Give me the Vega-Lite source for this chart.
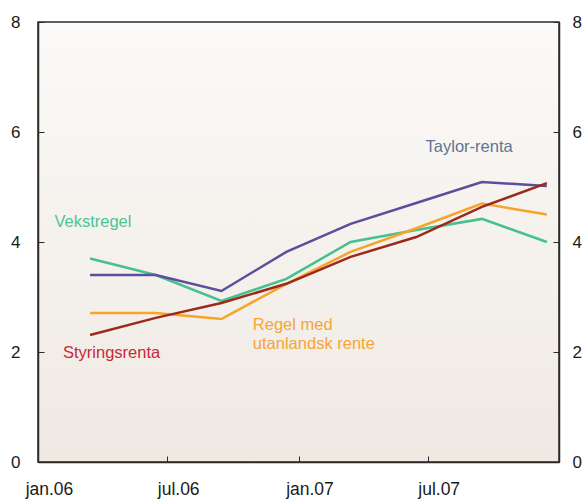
{
  "$schema": "https://vega.github.io/schema/vega-lite/v6.json",
  "width": 521,
  "height": 440,
  "autosize": {"type": "none"},
  "padding": {"left": 38, "top": 22, "right": 27, "bottom": 37},
  "background": "white",
  "config": {
    "font": "Liberation Sans",
    "view": {
      "stroke": "#2b2b2b",
      "strokeWidth": 1.5,
      "fill": {"gradient": "linear", "x1": 0, "y1": 0, "x2": 0, "y2": 1,
               "stops": [{"offset": 0, "color": "#fbfaf8"}, {"offset": 1, "color": "#efe9e2"}]}
    },
    "axis": {
      "domainColor": "#2b2b2b",
      "domainWidth": 1.5,
      "tickColor": "#2b2b2b",
      "tickWidth": 1,
      "tickSize": -6,
      "grid": false,
      "labelFont": "Liberation Sans",
      "labelFontSize": 17,
      "labelColor": "#1a1a1a",
      "title": null
    }
  },
  "datasets": {
    "series": [
      {"date": "2006-03-15", "serie": "Vekstregel", "value": 3.7},
      {"date": "2006-06-15", "serie": "Vekstregel", "value": 3.4},
      {"date": "2006-09-15", "serie": "Vekstregel", "value": 2.93},
      {"date": "2006-12-15", "serie": "Vekstregel", "value": 3.33},
      {"date": "2007-03-15", "serie": "Vekstregel", "value": 4.0},
      {"date": "2007-06-15", "serie": "Vekstregel", "value": 4.22},
      {"date": "2007-09-15", "serie": "Vekstregel", "value": 4.42},
      {"date": "2007-12-15", "serie": "Vekstregel", "value": 4.0},
      {"date": "2006-03-15", "serie": "Taylor-renta", "value": 3.4},
      {"date": "2006-06-15", "serie": "Taylor-renta", "value": 3.4},
      {"date": "2006-09-15", "serie": "Taylor-renta", "value": 3.11},
      {"date": "2006-12-15", "serie": "Taylor-renta", "value": 3.82},
      {"date": "2007-03-15", "serie": "Taylor-renta", "value": 4.33},
      {"date": "2007-06-15", "serie": "Taylor-renta", "value": 4.71},
      {"date": "2007-09-15", "serie": "Taylor-renta", "value": 5.09},
      {"date": "2007-12-15", "serie": "Taylor-renta", "value": 5.02},
      {"date": "2006-03-15", "serie": "Regel med utanlandsk rente", "value": 2.71},
      {"date": "2006-06-15", "serie": "Regel med utanlandsk rente", "value": 2.71},
      {"date": "2006-09-15", "serie": "Regel med utanlandsk rente", "value": 2.6},
      {"date": "2006-12-15", "serie": "Regel med utanlandsk rente", "value": 3.24},
      {"date": "2007-03-15", "serie": "Regel med utanlandsk rente", "value": 3.82},
      {"date": "2007-06-15", "serie": "Regel med utanlandsk rente", "value": 4.25},
      {"date": "2007-09-15", "serie": "Regel med utanlandsk rente", "value": 4.7},
      {"date": "2007-12-15", "serie": "Regel med utanlandsk rente", "value": 4.5},
      {"date": "2006-03-15", "serie": "Styringsrenta", "value": 2.31},
      {"date": "2006-06-15", "serie": "Styringsrenta", "value": 2.62},
      {"date": "2006-09-15", "serie": "Styringsrenta", "value": 2.89},
      {"date": "2006-12-15", "serie": "Styringsrenta", "value": 3.24},
      {"date": "2007-03-15", "serie": "Styringsrenta", "value": 3.73},
      {"date": "2007-06-15", "serie": "Styringsrenta", "value": 4.09},
      {"date": "2007-09-15", "serie": "Styringsrenta", "value": 4.64},
      {"date": "2007-12-15", "serie": "Styringsrenta", "value": 5.07}
    ],
    "labels": [
      {"date": "2007-06-28", "serie": "Taylor-renta", "value": 5.73, "label": "Taylor-renta"},
      {"date": "2006-01-24", "serie": "Vekstregel", "value": 4.36, "label": "Vekstregel"},
      {"date": "2006-02-05", "serie": "Styringsrenta", "value": 1.98, "label": "Styringsrenta"},
      {"date": "2006-10-29", "serie": "Regel med utanlandsk rente", "value": 2.49, "label": "Regel med\nutanlandsk rente"}
    ]
  },
  "layer": [
    {
      "data": {"name": "series"},
      "mark": {"type": "line", "strokeWidth": 2.5},
      "encoding": {
        "x": {
          "field": "date", "type": "temporal",
          "scale": {"domain": [{"year": 2006, "month": 1, "date": 1}, {"year": 2008, "month": 1, "date": 1}]},
          "axis": {
            "orient": "bottom",
            "values": [{"year": 2006, "month": 1, "date": 1}, {"year": 2006, "month": 7, "date": 1}, {"year": 2007, "month": 1, "date": 1}, {"year": 2007, "month": 7, "date": 1}],
            "labelExpr": "lower(timeFormat(datum.value, '%b.%y'))",
            "labelPadding": 24,
            "labelOffset": 11,
            "labelFontSize": 17.5,
            "labelFlush": false
          }
        },
        "y": {
          "field": "value", "type": "quantitative",
          "scale": {"domain": [0, 8], "nice": false},
          "axis": {"orient": "left", "values": [0, 2, 4, 6, 8], "labelPadding": 24}
        },
        "color": {
          "field": "serie", "type": "nominal", "legend": null,
          "scale": {
            "domain": ["Vekstregel", "Taylor-renta", "Regel med utanlandsk rente", "Styringsrenta"],
            "range": ["#45c08e", "#5b4f9c", "#f7a428", "#9c2a1c"]
          }
        },
        "detail": {"field": "serie"}
      }
    },
    {
      "data": {"name": "labels"},
      "mark": {"type": "text", "align": "left", "baseline": "middle", "fontSize": 16.5, "lineBreak": "\n", "lineHeight": 19, "font": "Liberation Sans"},
      "encoding": {
        "x": {"field": "date", "type": "temporal"},
        "y": {
          "field": "value", "type": "quantitative",
          "axis": {"orient": "right", "values": [0, 2, 4, 6, 8], "labelPadding": 19}
        },
        "text": {"field": "label"},
        "color": {
          "field": "serie", "type": "nominal", "legend": null,
          "scale": {
            "domain": ["Vekstregel", "Taylor-renta", "Regel med utanlandsk rente", "Styringsrenta"],
            "range": ["#4fc394", "#5d7592", "#f7a535", "#c8283c"]
          }
        }
      }
    }
  ],
  "resolve": {"scale": {"color": "independent"}, "axis": {"y": "independent"}}
}
